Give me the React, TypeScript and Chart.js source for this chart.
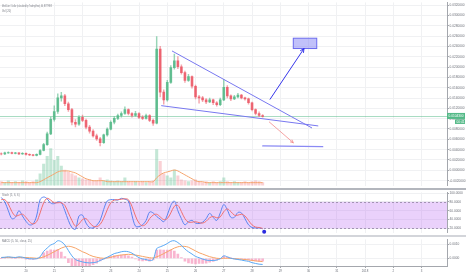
import React, { useEffect, useRef } from "react";
import { Chart, registerables } from "chart.js";

Chart.register(...registerables);

// ---------- data ----------
// x axis in days of December 2017 (32 = 1 Jan 2018)
const X_MIN = 19.08;
const X_MAX = 34.9;
const TICK_DAYS = [20, 21, 22, 23, 24, 25, 26, 27, 28, 29, 30, 31, 32, 33, 34];
const TICK_LABELS = ["20", "21", "22", "23", "24", "25", "26", "27", "28", "29", "30", "31", "2018", "2", "3"];

const FIRST_TIME = 19.125; // first candle (day)
const STEP_DAYS = 0.125; // 3-hour candles
const FIRST_OPEN = 0.0032;

const CLOSE = [
  0.00317, 0.00336, 0.00345, 0.00326, 0.00336, 0.00317, 0.0033, 0.00308, 0.00298, 0.00289,
  0.00308, 0.00383, 0.00496, 0.00704, 0.00987, 0.01138, 0.01402, 0.0144, 0.01289, 0.01175,
  0.0093, 0.00892, 0.01025, 0.00968, 0.00836, 0.0076, 0.00666, 0.00609, 0.00534, 0.00685,
  0.00798, 0.0093, 0.01006, 0.01062, 0.011, 0.01175, 0.011, 0.01062, 0.011, 0.01025,
  0.01006, 0.01062, 0.00968, 0.00911, 0.02345, 0.01515, 0.01364, 0.01704, 0.01987, 0.02119,
  0.02006, 0.01892, 0.01742, 0.01817, 0.01628, 0.01421, 0.01402, 0.01364, 0.01326, 0.01364,
  0.01308, 0.0127, 0.01364, 0.01609, 0.0144, 0.01383, 0.01421, 0.01458, 0.01402, 0.01383,
  0.01308, 0.01175, 0.011, 0.01062, 0.01043,
];
const HIGH = [
  0.0034, 0.00352, 0.0036, 0.00355, 0.0035, 0.00345, 0.00342, 0.00338, 0.00318, 0.0031,
  0.0032, 0.004, 0.0052, 0.0074, 0.0103, 0.0125, 0.0148, 0.0151, 0.0147, 0.0132,
  0.012, 0.0098, 0.0106, 0.0107, 0.0099, 0.0087, 0.0079, 0.007, 0.0064, 0.007,
  0.0082, 0.0096, 0.0104, 0.0109, 0.0113, 0.0123, 0.0119, 0.0112, 0.0114, 0.0112,
  0.0106, 0.0109, 0.0108, 0.0099, 0.0259, 0.024, 0.0156, 0.0174, 0.0203, 0.0225,
  0.022, 0.0204, 0.0192, 0.0186, 0.0183, 0.0165, 0.0145, 0.0143, 0.0139, 0.014,
  0.0138, 0.0133, 0.014, 0.0176, 0.0164, 0.0146, 0.0145, 0.0149, 0.0147, 0.0142,
  0.014, 0.0132, 0.0119, 0.0113, 0.0108,
];
const LOW = [
  0.003, 0.00305, 0.00325, 0.00315, 0.00318, 0.00305, 0.00308, 0.00295, 0.00285, 0.00278,
  0.0028, 0.003, 0.00375, 0.0048, 0.0069, 0.0095, 0.011, 0.0134, 0.0125, 0.0114,
  0.0088, 0.0084, 0.0087, 0.0094, 0.008, 0.0072, 0.0064, 0.0058, 0.0047, 0.0052,
  0.0066, 0.0078, 0.009, 0.0098, 0.0103, 0.0108, 0.0107, 0.0103, 0.0105, 0.01,
  0.0098, 0.0099, 0.0094, 0.0087, 0.009, 0.0142, 0.0128, 0.0134, 0.0168, 0.0196,
  0.0197, 0.0186, 0.017, 0.0172, 0.0159, 0.0138, 0.013, 0.0133, 0.0129, 0.0131,
  0.0127, 0.0124, 0.0125, 0.0135, 0.014, 0.0135, 0.0137, 0.014, 0.0138, 0.0136,
  0.0128, 0.0115, 0.0107, 0.0104, 0.0103,
];
// volume (thousands)
const VOLUME = [
  4, 3, 5, 3, 4, 3, 5, 4, 3, 4,
  6, 12, 22, 30, 38, 26, 30, 20, 16, 14,
  12, 10, 8, 7, 6, 6, 5, 5, 8, 5,
  6, 5, 4, 5, 4, 8, 4, 3, 4, 3,
  4, 3, 4, 5, 37, 25, 12, 10, 8, 16,
  10, 6, 5, 4, 5, 6, 4, 3, 4, 3,
  4, 3, 4, 8, 4, 3, 4, 3, 3, 4,
  3, 4, 5, 4, 3,
];
const VOLUME_MA = [
  3, 3, 3, 3, 3, 3, 3, 3, 3, 3,
  3, 4, 6, 8, 10, 12, 14, 15, 15, 15,
  14, 13, 11, 9, 7, 6, 5, 5, 5, 5,
  4, 4, 4, 4, 4, 4, 4, 4, 4, 4,
  4, 4, 4, 4, 8, 11, 13, 14, 15, 16,
  15, 13, 11, 9, 7, 5, 4, 4, 3, 3,
  3, 3, 3, 3, 3, 3, 3, 3, 3, 3,
  3, 3, 3, 3, 3,
];
const STOCH_K = [
  90, 80, 60, 42, 45, 60, 48, 36, 28, 30,
  48, 85, 91, 87, 77, 76, 80, 78, 60, 38,
  22, 18, 48, 50, 32, 22, 21, 27, 38, 63,
  82, 85, 85, 84, 88, 86, 82, 50, 25, 24,
  28, 38, 57, 55, 47, 41, 35, 50, 72, 82,
  60, 42, 28, 35, 38, 32, 31, 34, 42, 54,
  45, 38, 55, 74, 62, 45, 45, 56, 55, 42,
  28, 22, 21, 21, 19,
];
const STOCH_D = [
  85, 85, 75, 58, 48, 50, 52, 45, 35, 30,
  35, 55, 78, 88, 84, 78, 78, 78, 72, 55,
  38, 25, 30, 40, 42, 33, 25, 24, 29, 43,
  62, 78, 84, 85, 86, 87, 85, 70, 48, 32,
  26, 30, 42, 50, 52, 46, 40, 42, 55, 70,
  72, 58, 42, 34, 34, 35, 33, 32, 36, 44,
  47, 44, 46, 58, 64, 58, 50, 50, 52, 48,
  38, 28, 23, 22, 20,
];
// MACD values in units of 1e-4
const MACD_E4 = [
  0.65, 0.8, 1.1, 0.8, 0.65, 1.1, 0.8, 0.1, -0.2, -0.4,
  -0.2, 1.1, 5.0, 7.3, 9.5, 10.5, 12.5, 11.8, 9.5, 5.6,
  1.8, -0.8, -1.8, -2.5, -3.0, -3.2, -3.0, -2.6, -1.5, -0.4,
  0.8, 2.1, 3.4, 4.0, 4.7, 5.0, 4.7, 3.7, 2.1, 0.5,
  -0.4, -0.8, -1.5, -0.8, 6.9, 8.2, 9.2, 10.5, 12.1, 12.5,
  11.2, 9.2, 6.6, 4.7, 3.1, 1.4, 0.5, -0.5, -1.2, -1.5,
  -1.5, -1.2, -0.2, 1.8, 1.1, 0.1, -0.4, -0.8, -1.2, -1.7,
  -2.1, -3.0, -3.6, -4.1, -4.3,
];
const SIGNAL_E4 = [
  0.65, 0.65, 0.7, 0.7, 0.65, 0.7, 0.7, 0.6, 0.45, 0.3,
  0.1, 0.3, 1.1, 2.1, 3.4, 4.7, 6.0, 7.3, 8.2, 8.6,
  8.2, 7.3, 6.0, 4.7, 3.7, 2.4, 1.4, 0.8, 0.3, 0.1,
  0.3, 0.8, 1.4, 2.1, 2.4, 2.7, 2.9, 2.7, 2.4, 1.9,
  1.4, 0.9, 0.5, 0.3, 1.1, 2.1, 3.4, 4.7, 6.0, 7.3,
  8.2, 8.6, 8.5, 7.9, 6.6, 5.3, 4.0, 3.1, 2.1, 1.2,
  0.6, 0.1, -0.1, 0.1, 0.1, 0, -0.2, -0.4, -0.6, -0.8,
  -1.1, -1.4, -1.8, -2.0, -2.3,
];

// drawings: [day, value]
const WEDGE_UPPER = [[25.18, 0.02308], [30.11, 0.00823]];
const WEDGE_LOWER = [[24.8, 0.01251], [30.33, 0.0086]];
const TARGET_ARROW = [[28.64, 0.01377], [29.84, 0.02358]];
const TARGET_BOX = [[29.46, 0.02558], [30.29, 0.02358]];
const DROP_ARROW = [[28.61, 0.00936], [29.46, 0.00534]];
const SUPPORT_LINE = [[28.38, 0.00472], [30.5, 0.00458]];
const STOCH_MARK = [28.43, 12.5];

const TITLE = "MediCoin / Dollar (calculated by TradingView), 60, BITTREX";
const VOL_TITLE = "Vol (20)";
const STOCH_TITLE = "Stoch (5, 6, 6)";
const MACD_TITLE = "MACD (5, 50, close, 25)";
const COUNTDOWN = "00:41";

// ---------- derived ----------
const TIMES = CLOSE.map((_, i) => FIRST_TIME + i * STEP_DAYS);
const OPEN = CLOSE.map((_, i) => (i === 0 ? FIRST_OPEN : CLOSE[i - 1]));
const HIST_E4 = MACD_E4.map((v, i) => v - SIGNAL_E4[i]);

// ---------- style ----------
const UP = "#53b987";
const DOWN = "#eb4d5c";
const GRID = "#f0f1f3";
const AXIS = "#a4a7ad";
const TEXT = "#6d7079";
const FONT = '"Liberation Sans", Arial, sans-serif';
const AXIS_W = 19;

const candleColors = CLOSE.map((c, i) => (c >= OPEN[i] ? "rgba(83,185,135,0.85)" : "rgba(235,77,92,0.78)"));
const wickColors = CLOSE.map((c, i) => (c >= OPEN[i] ? "rgba(83,185,135,0.6)" : "rgba(235,77,92,0.5)"));
const volColors = CLOSE.map((c, i) => (c >= OPEN[i] ? "rgba(83,185,135,0.34)" : "rgba(235,77,92,0.26)"));

function xScale(showLabels: boolean): any {
  return {
    type: "linear",
    min: X_MIN,
    max: X_MAX,
    offset: false,
    afterBuildTicks: (s: any) => {
      s.ticks = TICK_DAYS.map((v) => ({ value: v }));
    },
    grid: { color: GRID, offset: false, drawTicks: showLabels, tickLength: 2, tickColor: AXIS },
    border: { display: showLabels, color: AXIS },
    ticks: {
      display: showLabels,
      autoSkip: false,
      maxRotation: 0,
      padding: 1,
      color: TEXT,
      font: { family: FONT, size: 2.9 },
      callback: (v: number) => {
        const k = TICK_DAYS.indexOf(v);
        return k >= 0 ? TICK_LABELS[k] : "";
      },
    },
    afterFit: (s: any) => {
      s.height = showLabels ? 9 : 0;
    },
  };
}

function yScale(min: number, max: number, step: number, fmt: (v: number) => string): any {
  return {
    position: "right",
    min,
    max,
    grid: { color: GRID, drawTicks: true, tickLength: 2, tickColor: AXIS },
    border: { display: true, color: AXIS },
    ticks: {
      stepSize: step,
      includeBounds: false,
      padding: 0.5,
      color: TEXT,
      font: { family: FONT, size: 3.2 },
      callback: (v: number) => fmt(v),
    },
    afterFit: (s: any) => {
      s.width = AXIS_W;
    },
  };
}

const baseOptions: any = {
  animation: false,
  responsive: false,
  maintainAspectRatio: false,
  devicePixelRatio: 1,
  events: [],
  layout: { padding: 0 },
  plugins: { legend: { display: false }, tooltip: { enabled: false } },
};

function px(chart: any, pt: number[], axis = "y") {
  return [chart.scales.x.getPixelForValue(pt[0]), chart.scales[axis].getPixelForValue(pt[1])];
}

function drawArrow(ctx: CanvasRenderingContext2D, a: number[], b: number[], color: string, w: number, head: number) {
  ctx.strokeStyle = color;
  ctx.lineWidth = w;
  ctx.beginPath();
  ctx.moveTo(a[0], a[1]);
  ctx.lineTo(b[0], b[1]);
  ctx.stroke();
  const ang = Math.atan2(b[1] - a[1], b[0] - a[0]);
  ctx.beginPath();
  ctx.moveTo(b[0] - head * Math.cos(ang - 0.45), b[1] - head * Math.sin(ang - 0.45));
  ctx.lineTo(b[0], b[1]);
  ctx.lineTo(b[0] - head * Math.cos(ang + 0.45), b[1] - head * Math.sin(ang + 0.45));
  ctx.stroke();
}

function drawTitle(ctx: CanvasRenderingContext2D, text: string, x: number, y: number, size: number, maxW: number) {
  ctx.fillStyle = "#7a7d85";
  ctx.font = `${size}px ${FONT}`;
  ctx.textBaseline = "middle";
  ctx.textAlign = "left";
  ctx.fillText(text, x, y, maxW);
}

const mainPlugin = {
  id: "mainDecor",
  beforeDatasetsDraw(chart: any) {
    const { ctx, chartArea, scales } = chart;
    const y = Math.round(scales.y.getPixelForValue(CLOSE[CLOSE.length - 1])) + 0.5;
    ctx.save();
    ctx.strokeStyle = "rgba(83,185,135,0.5)";
    ctx.lineWidth = 1;
    ctx.beginPath();
    ctx.moveTo(chartArea.left, y);
    ctx.lineTo(chartArea.right, y);
    ctx.stroke();
    ctx.restore();
  },
  afterDatasetsDraw(chart: any) {
    const { ctx } = chart;
    ctx.save();
    ctx.lineCap = "round";
    // wedge
    ctx.strokeStyle = "#7878f0";
    ctx.lineWidth = 1;
    for (const seg of [WEDGE_UPPER, WEDGE_LOWER]) {
      const a = px(chart, seg[0]);
      const b = px(chart, seg[1]);
      ctx.beginPath();
      ctx.moveTo(a[0], a[1]);
      ctx.lineTo(b[0], b[1]);
      ctx.stroke();
    }
    // target box
    const b0 = px(chart, TARGET_BOX[0]);
    const b1 = px(chart, TARGET_BOX[1]);
    ctx.fillStyle = "rgba(118,118,245,0.45)";
    ctx.fillRect(b0[0], b0[1], b1[0] - b0[0], b1[1] - b0[1]);
    ctx.strokeStyle = "#6b6bee";
    ctx.lineWidth = 1;
    ctx.strokeRect(b0[0], b0[1], b1[0] - b0[0], b1[1] - b0[1]);
    // arrows
    drawArrow(ctx, px(chart, TARGET_ARROW[0]), px(chart, TARGET_ARROW[1]), "#3535ea", 1, 4);
    drawArrow(ctx, px(chart, DROP_ARROW[0]), px(chart, DROP_ARROW[1]), "rgba(240,120,120,0.85)", 0.8, 3);
    // support line
    const s0 = px(chart, SUPPORT_LINE[0]);
    const s1 = px(chart, SUPPORT_LINE[1]);
    ctx.strokeStyle = "#8a8af4";
    ctx.lineWidth = 1.4;
    ctx.beginPath();
    ctx.moveTo(s0[0], s0[1]);
    ctx.lineTo(s1[0], s1[1]);
    ctx.stroke();
    ctx.restore();
  },
  afterDraw(chart: any) {
    const { ctx, chartArea, scales, width } = chart;
    ctx.save();
    const last = CLOSE[CLOSE.length - 1];
    const y = scales.y.getPixelForValue(last);
    ctx.fillStyle = UP;
    ctx.fillRect(chartArea.right, y - 3.5, width - chartArea.right - 1, 6);
    ctx.fillRect(chartArea.right + 8, y + 3, width - chartArea.right - 9, 4.5);
    ctx.fillStyle = "#ffffff";
    ctx.font = `3.2px ${FONT}`;
    ctx.textBaseline = "middle";
    ctx.textAlign = "left";
    ctx.fillText(last.toFixed(7), chartArea.right + 1.5, y - 0.5);
    ctx.fillText(COUNTDOWN, chartArea.right + 9.5, y + 5.3);
    drawTitle(ctx, TITLE, 2, 6, 2.6, 50);
    drawTitle(ctx, VOL_TITLE, 2, 11.5, 2.6, 9);
    ctx.restore();
  },
};

const stochPlugin = {
  id: "stochDecor",
  beforeDatasetsDraw(chart: any) {
    const { ctx, chartArea, scales } = chart;
    const y80 = scales.y.getPixelForValue(80);
    const y20 = scales.y.getPixelForValue(20);
    ctx.save();
    ctx.fillStyle = "rgba(180,90,240,0.28)";
    ctx.fillRect(chartArea.left, y80, chartArea.right - chartArea.left, y20 - y80);
    ctx.strokeStyle = "#a393b4";
    ctx.lineWidth = 1;
    ctx.setLineDash([2, 2]);
    for (const yy of [y80, y20]) {
      ctx.beginPath();
      ctx.moveTo(chartArea.left, Math.round(yy) + 0.5);
      ctx.lineTo(chartArea.right, Math.round(yy) + 0.5);
      ctx.stroke();
    }
    ctx.restore();
  },
  afterDraw(chart: any) {
    const { ctx } = chart;
    ctx.save();
    const p = px(chart, STOCH_MARK);
    ctx.fillStyle = "#2a2ae0";
    ctx.beginPath();
    ctx.arc(p[0], p[1], 2, 0, Math.PI * 2);
    ctx.fill();
    drawTitle(ctx, STOCH_TITLE, 2, 5, 2.8, 23);
    ctx.restore();
  },
};

const macdPlugin = {
  id: "macdDecor",
  afterDraw(chart: any) {
    const { ctx } = chart;
    ctx.save();
    drawTitle(ctx, MACD_TITLE, 2, 4.7, 2.8, 41);
    ctx.restore();
  },
};

function mainConfig(): any {
  return {
    type: "bar",
    data: {
      datasets: [
        {
          type: "bar",
          yAxisID: "yv",
          data: TIMES.map((t, i) => ({ x: t, y: VOLUME[i] })),
          backgroundColor: volColors,
          barThickness: 2.4,
          grouped: false,
          order: 10,
        },
        {
          type: "line",
          yAxisID: "yv",
          data: TIMES.map((t, i) => ({ x: t, y: VOLUME_MA[i] })),
          borderColor: "#f5a46c",
          borderWidth: 1,
          pointRadius: 0,
          tension: 0.4,
          order: 9,
        },
        {
          type: "bar",
          yAxisID: "y",
          data: TIMES.map((t, i) => ({ x: t, y: [LOW[i], HIGH[i]] })),
          backgroundColor: wickColors,
          barThickness: 0.8,
          grouped: false,
          order: 2,
        },
        {
          type: "bar",
          yAxisID: "y",
          data: TIMES.map((t, i) => ({ x: t, y: [OPEN[i], CLOSE[i]] })),
          backgroundColor: candleColors,
          barThickness: 2,
          grouped: false,
          order: 1,
        },
      ],
    },
    options: {
      ...baseOptions,
      scales: {
        x: xScale(false),
        y: yScale(-0.00296, 0.03251, 0.002, (v) => v.toFixed(7)),
        yv: { display: false, min: 0, max: 188, position: "left" },
      },
    },
    plugins: [mainPlugin],
  };
}

function stochConfig(): any {
  return {
    type: "line",
    data: {
      datasets: [
        {
          data: TIMES.map((t, i) => ({ x: t, y: STOCH_D[i] })),
          borderColor: "#f07070",
          borderWidth: 1,
          pointRadius: 0,
          tension: 0.35,
        },
        {
          data: TIMES.map((t, i) => ({ x: t, y: STOCH_K[i] })),
          borderColor: "#5a84f0",
          borderWidth: 1,
          pointRadius: 0,
          tension: 0.35,
        },
      ],
    },
    options: {
      ...baseOptions,
      scales: {
        x: xScale(false),
        y: yScale(10.5, 101.4, 20, (v) => v.toFixed(4)),
      },
    },
    plugins: [stochPlugin],
  };
}

function macdConfig(): any {
  return {
    type: "bar",
    data: {
      datasets: [
        {
          type: "line",
          data: TIMES.map((t, i) => ({ x: t, y: SIGNAL_E4[i] })),
          borderColor: "#f7a467",
          borderWidth: 1,
          pointRadius: 0,
          tension: 0.35,
          order: 2,
        },
        {
          type: "line",
          data: TIMES.map((t, i) => ({ x: t, y: MACD_E4[i] })),
          borderColor: "#5aa9f5",
          borderWidth: 1,
          pointRadius: 0,
          tension: 0.35,
          order: 1,
        },
        {
          type: "bar",
          data: TIMES.map((t, i) => ({ x: t, y: HIST_E4[i] })),
          backgroundColor: "rgba(244,120,170,0.55)",
          barThickness: 2,
          grouped: false,
          order: 5,
        },
      ],
    },
    options: {
      ...baseOptions,
      scales: {
        x: xScale(true),
        y: yScale(-5.39, 13.44, 10, (v) => (v / 10000).toFixed(4)),
      },
    },
    plugins: [macdPlugin],
  };
}

export default function App() {
  const mainRef = useRef<HTMLCanvasElement>(null);
  const stochRef = useRef<HTMLCanvasElement>(null);
  const macdRef = useRef<HTMLCanvasElement>(null);

  useEffect(() => {
    document.body.style.margin = "0";
    const charts: Chart[] = [];
    if (mainRef.current) charts.push(new Chart(mainRef.current, mainConfig()));
    if (stochRef.current) charts.push(new Chart(stochRef.current, stochConfig()));
    if (macdRef.current) charts.push(new Chart(macdRef.current, macdConfig()));
    return () => charts.forEach((c) => c.destroy());
  }, []);

  const abs = (top: number, height: number): React.CSSProperties => ({
    position: "absolute",
    left: 0,
    top,
    width: 466,
    height,
  });

  return (
    <div style={{ position: "relative", width: 466, height: 275, background: "#ffffff", overflow: "hidden" }}>
      <canvas ref={mainRef} width={466} height={188} style={abs(0, 188)} />
      <div style={{ ...abs(188, 2), background: "#b3b6bd" }} />
      <canvas ref={stochRef} width={466} height={45} style={abs(190, 45)} />
      <div style={{ ...abs(235, 2), background: "#d3d5da" }} />
      <canvas ref={macdRef} width={466} height={38} style={abs(237, 38)} />
    </div>
  );
}
